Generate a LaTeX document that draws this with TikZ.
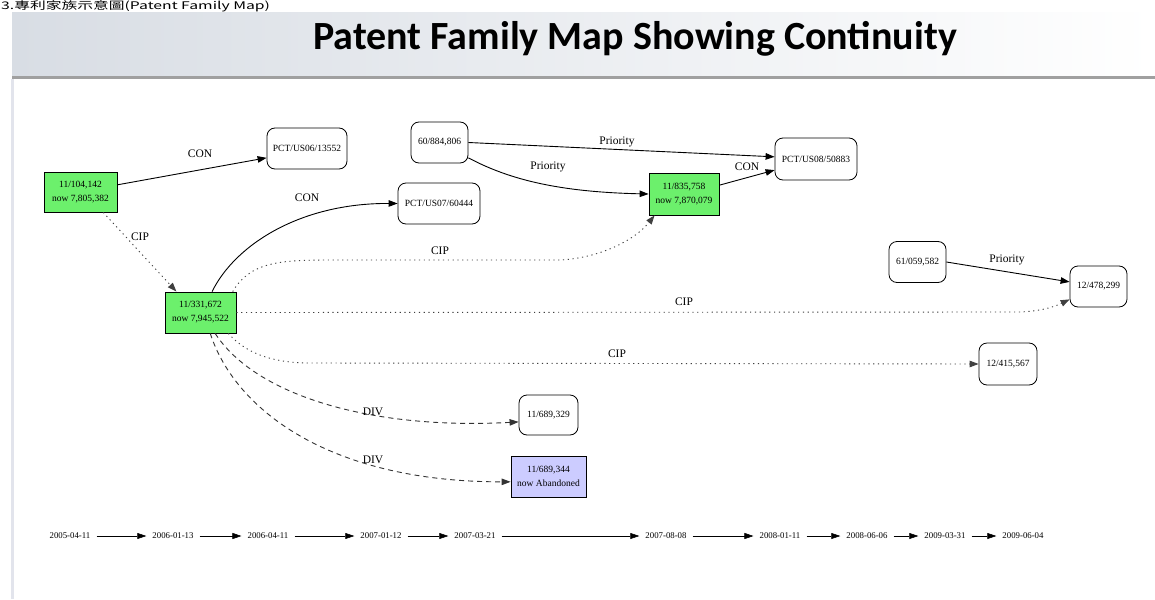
\documentclass[tikz,border=0pt]{standalone}
\usepackage{fontspec}
\setmainfont{Liberation Serif}
\newfontfamily\titlefont{Carlito}
\newfontfamily\cjkfont{Noto Sans CJK TC}
\usetikzlibrary{arrows.meta}
\definecolor{gfill}{RGB}{108,240,108}
\definecolor{pfill}{RGB}{204,204,255}
\definecolor{hdrgray}{RGB}{216,221,228}
\definecolor{rulegray}{RGB}{160,160,160}
\definecolor{leftgray}{RGB}{226,228,236}
\begin{document}
\begin{tikzpicture}[x=1pt,y=-1pt,
  basebox/.style={draw, line width=0.8pt, inner sep=0pt, align=center,
    font=\fontsize{9.5}{14}\selectfont},
  rbox/.style={basebox, rounded corners=8pt, fill=white},
  gbox/.style={basebox, fill=gfill},
  pbox/.style={basebox, fill=pfill},
  conn/.style={-{Triangle[length=9pt,width=6.5pt]}, line width=0.9pt},
  dotconn/.style={conn, black!75, dash pattern=on 1.2pt off 3.6pt},
  dashconn/.style={conn, black!80, dash pattern=on 5pt off 4pt},
  lbl/.style={font=\fontsize{11.5}{11.5}\selectfont, inner sep=0pt},
  datenode/.style={font=\fontsize{8.8}{10}\selectfont, inner ysep=2pt, inner xsep=6pt},
  tl/.style={-{Triangle[length=9pt,width=6pt]}, line width=0.5pt}
]
\useasboundingbox (0,0) rectangle (1155,599);
\fill[white] (0,0) rectangle (1155,599);
% caption line at very top
\node[anchor=base west, inner sep=0pt] (caption) at (1,9.5)
  {\cjkfont\fontsize{10.5}{10.5}\selectfont\scalebox{1.5}[1]{3.專利家族示意圖(Patent Family Map)}};
% slide header
\shade[left color=hdrgray, right color=white] (12,12.5) rectangle (1155,76);
\fill[rulegray] (12,76) rectangle (1155,79);
\fill[leftgray] (11,79) rectangle (14,599);
\node[anchor=base, inner sep=0pt] (title) at (635,50)
  {\titlefont\bfseries\fontsize{40}{40}\selectfont Patent Family Map Showing Continuity};

% nodes
\node[gbox, minimum width=73pt, minimum height=40pt] (n1) at (80.5,192) {11/104,142\\now 7,805,382};
\node[rbox, minimum width=80pt, minimum height=41pt] (n2) at (307,148.5) {PCT/US06/13552};
\node[gbox, minimum width=71pt, minimum height=41pt] (n3) at (200.5,312.5) {11/331,672\\now 7,945,522};
\node[rbox, minimum width=82pt, minimum height=41pt] (n4) at (439,203.5) {PCT/US07/60444};
\node[rbox, minimum width=57pt, minimum height=41pt] (n5) at (439.5,142.5) {60/884,806};
\node[gbox, minimum width=70pt, minimum height=42pt] (n6) at (684,194) {11/835,758\\now 7,870,079};
\node[rbox, minimum width=82pt, minimum height=42pt] (n7) at (816,159) {PCT/US08/50883};
\node[rbox, minimum width=57pt, minimum height=41pt] (n8) at (917.5,262) {61/059,582};
\node[rbox, minimum width=57pt, minimum height=41pt] (n9) at (1098.5,286.5) {12/478,299};
\node[rbox, minimum width=58pt, minimum height=42pt] (n10) at (1008,364) {12/415,567};
\node[rbox, minimum width=59pt, minimum height=40pt] (n11) at (548.5,415) {11/689,329};
\node[pbox, minimum width=75pt, minimum height=41pt] (n12) at (548.5,476.5) {11/689,344\\now Abandoned};

% connectors
\draw[conn] (n1.11) -- (n2.193);
\draw[dotconn] (n1.-42) -- (n3.139);
\draw[conn] (n3.61) .. controls (235,245) and (300,203) .. (n4.west);
\draw[dotconn] (n3.33) .. controls (250,262) and (280,260) .. (330,260) -- (560,260)
  .. controls (600,258) and (635,240) .. (n6.216);
\draw[dotconn] (n3.east) -- (1020,312) .. controls (1045,311) and (1058,305) .. (n9.204);
\draw[dotconn] (n3.-37) .. controls (245,352) and (270,363) .. (310,363) -- (n10.west);
\draw[dashconn] (n3.-55) .. controls (255,395) and (370,430) .. (n11.193);
\draw[dashconn] (n3.-65) .. controls (235,410) and (330,482) .. (n12.188);
\draw[conn] (n5.east) -- (n7.177);
\draw[conn] (n5.-28) .. controls (510,180) and (560,192) .. (n6.west);
\draw[conn] (n6.14) -- (n7.195);
\draw[conn] (n8.east) -- (n9.171);

% labels
\node[lbl] (l1) at (200,154) {CON};
\node[lbl] (l2) at (140,237) {CIP};
\node[lbl] (l3) at (307,198) {CON};
\node[lbl] (l4) at (617,142) {Priority};
\node[lbl] (l5) at (548,167) {Priority};
\node[lbl] (l6) at (747,167) {CON};
\node[lbl] (l7) at (440,251) {CIP};
\node[lbl] (l8) at (684,302) {CIP};
\node[lbl] (l9) at (1007,260) {Priority};
\node[lbl] (l10) at (617,354) {CIP};
\node[lbl] (l11) at (373,412) {DIV};
\node[lbl] (l12) at (373,460) {DIV};

% timeline
\node[datenode] (t1) at (70,536) {2005-04-11};
\node[datenode] (t2) at (173,536) {2006-01-13};
\node[datenode] (t3) at (268,536) {2006-04-11};
\node[datenode] (t4) at (381,536) {2007-01-12};
\node[datenode] (t5) at (475,536) {2007-03-21};
\node[datenode] (t6) at (666,536) {2007-08-08};
\node[datenode] (t7) at (780,536) {2008-01-11};
\node[datenode] (t8) at (867,536) {2008-06-06};
\node[datenode] (t9) at (945,536) {2009-03-31};
\node[datenode] (t10) at (1023,536) {2009-06-04};
\foreach \a/\b in {t1/t2,t2/t3,t3/t4,t4/t5,t5/t6,t6/t7,t7/t8,t8/t9,t9/t10}
  \draw[tl] (\a.east) -- (\b.west);
\end{tikzpicture}
\end{document}
